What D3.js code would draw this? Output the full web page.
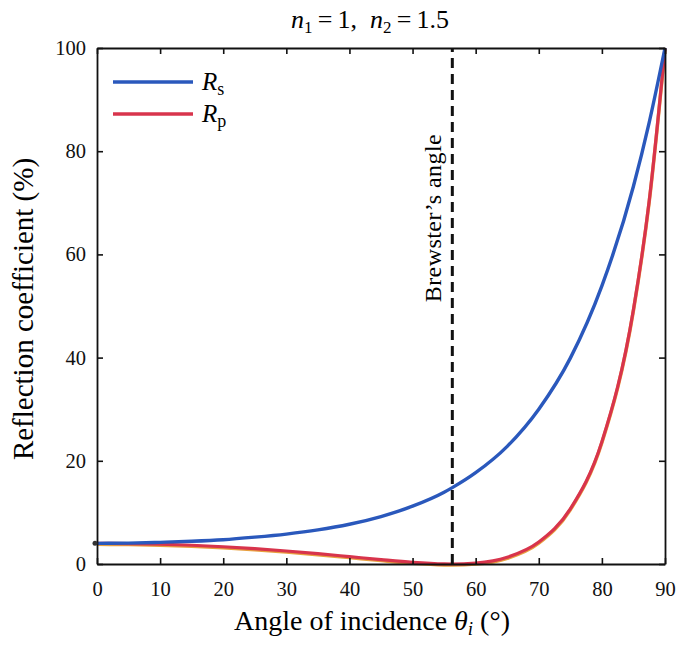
<!DOCTYPE html>
<html>
<head>
<meta charset="utf-8">
<script src="https://cdn.jsdelivr.net/npm/d3@7"></script>
<style>
  body { margin: 0; background: #fff; }
  svg { display: block; }
  svg text { font-family: "Times New Roman", "Liberation Serif", "DejaVu Serif", Times, serif; }
</style>
</head>
<body>
<div id="chart"></div>
<script>
// values (percent)
const angles = [0, 5, 10, 15, 20, 25, 30, 35, 40, 45, 50, 55, 56.3, 60, 65, 70, 75, 80, 85, 87.5, 90];
const rsValues = [4.0, 4.05, 4.2, 4.4, 4.7, 5.2, 5.8, 6.6, 7.7, 9.2, 11.2, 13.9, 14.8, 17.7, 22.8, 30.0, 39.9, 53.9, 73.2, 85.6, 100];
const rpValues = [4.0, 3.96, 3.84, 3.63, 3.34, 2.97, 2.52, 2.0, 1.43, 0.85, 0.33, 0.02, 0, 0.18, 1.3, 4.25, 10.7, 23.7, 49.3, 70.4, 100];
const xTicks = [0, 10, 20, 30, 40, 50, 60, 70, 80, 90];
const yTicks = [0, 20, 40, 60, 80, 100];
const brewster = 56.3;

const W = 679, H = 646;
const margin = { left: 97, right: 14, top: 48, bottom: 82 };

const svg = d3.select('#chart').append('svg')
  .attr('width', W).attr('height', H);

const x = d3.scaleLinear().domain([0, 90]).range([margin.left, W - margin.right]);
const y = d3.scaleLinear().domain([0, 100]).range([H - margin.bottom, margin.top]);

// — Curves ————————————————————————————————————————
const line = vals => d3.line()
  .x((d, i) => x(angles[i]))
  .y(d => y(d))
  .curve(d3.curveMonotoneX)(vals);

// orange-ish fringe under red curve, like the scan
svg.append('path').attr('d', line(rpValues))
  .attr('fill', 'none').attr('stroke', '#e8a040').attr('stroke-width', 3.5)
  .attr('transform', 'translate(0,1)');
svg.append('path').attr('d', line(rpValues))
  .attr('fill', 'none').attr('stroke', '#d8344c').attr('stroke-width', 3.2);
svg.append('path').attr('d', line(rsValues))
  .attr('fill', 'none').attr('stroke', '#2a58bc').attr('stroke-width', 3.4);

// Brewster line
svg.append('line')
  .attr('x1', x(brewster)).attr('x2', x(brewster))
  .attr('y1', y(0)).attr('y2', y(100))
  .attr('stroke', '#111').attr('stroke-width', 3)
  .attr('stroke-dasharray', '10,6');

svg.append('text')
  .attr('transform', `translate(${x(brewster) - 11},${y(67)}) rotate(-90)`)
  .attr('text-anchor', 'middle')
  .attr('font-size', 24)
  .attr('textLength', 168).attr('lengthAdjust', 'spacing')
  .text('Brewster\u2019s angle');

// — Axes box ———————————————————————————————————————
const tick = 6;
const axBottom = d3.axisBottom(x).tickValues(xTicks).tickSizeInner(-tick).tickSizeOuter(0).tickPadding(17);
const axTop = d3.axisTop(x).tickValues(xTicks).tickSizeInner(-tick).tickSizeOuter(0).tickFormat('');
const axLeft = d3.axisLeft(y).tickValues(yTicks).tickSizeInner(-tick).tickSizeOuter(0).tickPadding(11);
const axRight = d3.axisRight(y).tickValues(yTicks).tickSizeInner(-tick).tickSizeOuter(0).tickFormat('');

const g = [
  svg.append('g').attr('transform', `translate(0,${y(0)})`).call(axBottom),
  svg.append('g').attr('transform', `translate(0,${y(100)})`).call(axTop),
  svg.append('g').attr('transform', `translate(${x(0)},0)`).call(axLeft),
  svg.append('g').attr('transform', `translate(${x(90)},0)`).call(axRight),
];
g.forEach(a => {
  a.select('.domain').attr('stroke', '#111').attr('stroke-width', 1.8);
  a.selectAll('.tick line').attr('stroke', '#111').attr('stroke-width', 1.6);
  a.selectAll('.tick text').attr('font-size', 20.5).attr('fill', '#111');
});

// — Titles ———————————————————————————————————————
const title = svg.append('text')
  .attr('x', 370).attr('y', 28)
  .attr('text-anchor', 'middle').attr('font-size', 26);
title.append('tspan').attr('font-style', 'italic').text('n');
title.append('tspan').attr('font-size', 17).attr('dy', 5).text('1');
title.append('tspan').attr('dy', -5).text('\u2009=\u20091,\u2002');
title.append('tspan').attr('font-style', 'italic').text('n');
title.append('tspan').attr('font-size', 17).attr('dy', 5).text('2');
title.append('tspan').attr('dy', -5).text('\u2009=\u20091.5');

const xl = svg.append('text')
  .attr('x', 372).attr('y', 630)
  .attr('text-anchor', 'middle').attr('font-size', 28);
xl.append('tspan').text('Angle of incidence ');
xl.append('tspan').attr('font-style', 'italic').text('\u03b8');
xl.append('tspan').attr('font-style', 'italic').attr('font-size', 19).attr('dy', 5).text('i');
xl.append('tspan').attr('dy', -5).text(' (\u00b0)');

svg.append('text')
  .attr('transform', 'translate(33,309) rotate(-90)')
  .attr('text-anchor', 'middle').attr('font-size', 29)
  .text('Reflection coefficient (%)');

// — Legend ———————————————————————————————————————
const legend = [
  { sub: 's', color: '#2a58bc', y: 82 },
  { sub: 'p', color: '#d8344c', y: 114 },
];
legend.forEach(d => {
  svg.append('line').attr('x1', 113).attr('x2', 193).attr('y1', d.y).attr('y2', d.y)
    .attr('stroke', d.color).attr('stroke-width', 3.4);
  const t = svg.append('text').attr('x', 202).attr('y', d.y + 8).attr('font-size', 25);
  t.append('tspan').attr('font-style', 'italic').text('R');
  t.append('tspan').attr('font-size', 18).attr('dy', 5).text(d.sub);
});

// little marker at the origin of the curves
svg.append('circle').attr('cx', x(0) - 2).attr('cy', y(4)).attr('r', 2.5).attr('fill', '#333');
</script>
</body>
</html>
